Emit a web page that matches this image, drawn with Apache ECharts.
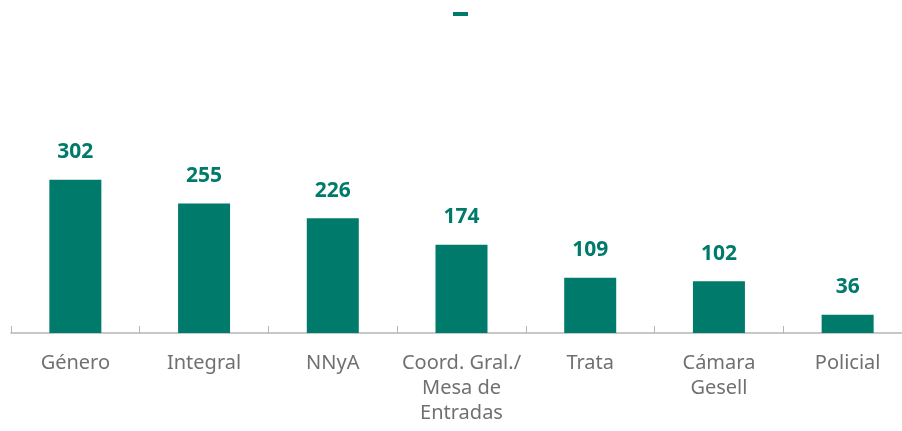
<!DOCTYPE html>
<html>
<head>
<meta charset="UTF-8">
<title>Causas por área</title>
<script src="https://cdn.jsdelivr.net/npm/echarts@6/dist/echarts.min.js"></script>
<style>
  html, body { margin: 0; padding: 0; background: #fff; }
  #main { width: 902px; height: 431px; }
</style>
</head>
<body>
<div id="main"></div>
<script>
  var categories = ['Género', 'Integral', 'NNyA', 'Coord. Gral./\nMesa de\nEntradas', 'Trata', 'Cámara\nGesell', 'Policial'];
  var values = [302, 255, 226, 174, 109, 102, 36];

  var green = '#007a6a';
  var myChart = echarts.init(document.getElementById('main'));
  var option = {
    animation: false,
    legend: {
      data: [' '],
      left: 448,
      top: 7,
      padding: 5,
      icon: 'rect',
      itemWidth: 15,
      itemHeight: 4,
      textStyle: { fontSize: 4 }
    },
    grid: { left: 11, width: 901, top: 130, bottom: 98, outerBoundsMode: 'none', containLabel: false },
    xAxis: {
      type: 'category',
      data: categories,
      axisLine: { lineStyle: { color: '#b5b5b5', width: 1.5 } },
      axisTick: { show: true, inside: true, length: 7, lineStyle: { color: '#b5b5b5' } },
      axisLabel: {
        color: '#707070',
        fontSize: 20,
        fontFamily: 'Noto Sans',
        lineHeight: 25,
        margin: 18,
        interval: 0
      }
    },
    yAxis: {
      type: 'value',
      min: 0,
      max: 400,
      show: false,
      splitLine: { show: false }
    },
    series: [{
      name: ' ',
      type: 'bar',
      data: values,
      barWidth: 52,
      itemStyle: { color: green },
      label: {
        show: true,
        position: 'top',
        distance: 17,
        color: green,
        fontSize: 21,
        fontWeight: 'bold',
        fontFamily: 'Noto Sans'
      }
    }]
  };
  myChart.setOption(option);
</script>
</body>
</html>
